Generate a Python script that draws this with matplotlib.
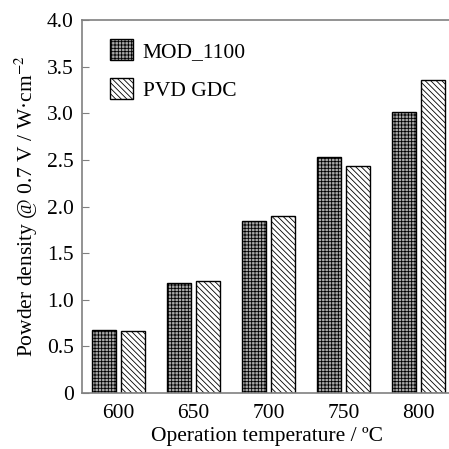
import matplotlib
matplotlib.use("Agg")
import matplotlib.pyplot as plt
import numpy as np

plt.rcParams['font.family'] = ['Liberation Serif', 'DejaVu Serif']
plt.rcParams['hatch.linewidth'] = 0.6
plt.rcParams['mathtext.fontset'] = 'stix'

temps = ["600", "650", "700", "750", "800"]
mod_1100 = [0.68, 1.18, 1.84, 2.53, 3.01]
pvd_gdc = [0.66, 1.20, 1.90, 2.43, 3.36]

fig = plt.figure(figsize=(4.49, 4.49), dpi=100)
ax = fig.add_axes([82 / 449, 56 / 449, 370 / 449, 373 / 449])

x = np.arange(len(temps))
w = 0.32
ax.bar(x - 0.19, mod_1100, w, facecolor='#a8a8a8', edgecolor='black',
       hatch='+++++', linewidth=1.0, label='MOD_1100')
ax.bar(x + 0.19, pvd_gdc, w, facecolor='white', edgecolor='black',
       hatch='\\\\\\\\\\\\', linewidth=1.0, label='PVD GDC')

ax.set_xlim(-0.49, 4.45)
ax.set_ylim(0, 4.0)
ax.set_yticks(np.arange(0, 4.01, 0.5))
ax.set_yticklabels(["0"] + [f"{v:.1f}" for v in np.arange(0.5, 4.01, 0.5)])
ax.set_xticks(x)
ax.set_xticklabels(temps)

for s in ['left', 'top', 'bottom']:
    ax.spines[s].set_color('#808080')
    ax.spines[s].set_linewidth(1.2)
ax.spines['right'].set_visible(False)
ax.tick_params(axis='y', direction='in', length=5, color='#808080', labelsize=15.5, pad=6)
ax.tick_params(axis='x', length=0, labelsize=15.5, pad=8)

ax.set_xlabel("Operation temperature / ºC", fontsize=15.5, labelpad=3)
ax.set_ylabel("Powder density @ 0.7 V / W·cm$^{-2}$", fontsize=15.5, labelpad=5)

ax.legend(loc='upper left', frameon=False, fontsize=15.5, handlelength=1.07,
          handleheight=1.1, labelspacing=0.75, handletextpad=0.45,
          bbox_to_anchor=(0.023, 1.0))

fig.savefig("out.png", dpi=100)
